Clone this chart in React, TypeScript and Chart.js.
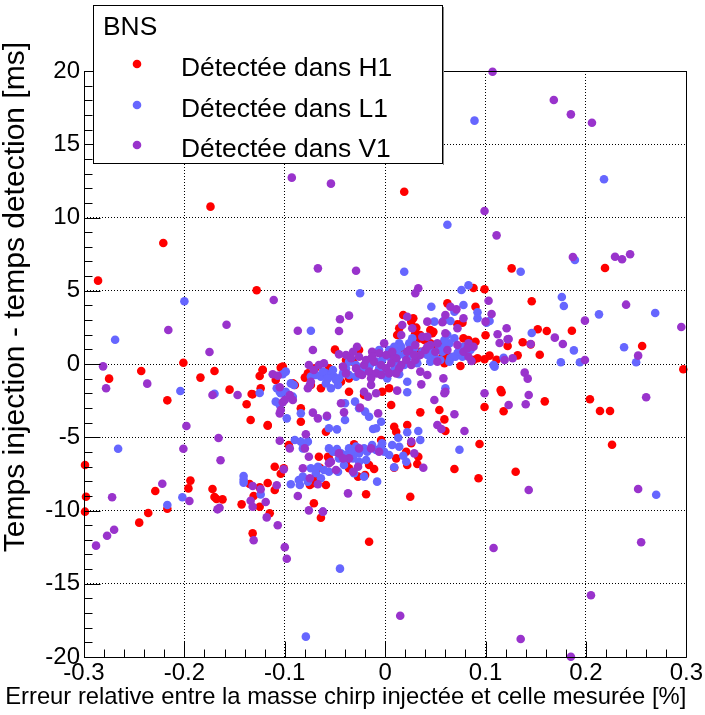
import { useEffect, useRef } from 'react';
import { Chart, registerables } from 'chart.js';

Chart.register(...registerables);

const FONT = "'Liberation Sans', Arial, Helvetica, sans-serif";

const xTickValues = [-0.3, -0.2, -0.1, 0, 0.1, 0.2, 0.3];
const xTickLabels = ['-0.3', '-0.2', '-0.1', '0', '0.1', '0.2', '0.3'];
const yTickValues = [-20, -15, -10, -5, 0, 5, 10, 15, 20];
const yTickLabels = ['-20', '-15', '-10', '-5', '0', '5', '10', '15', '20'];

const legendTitle = 'BNS';
const seriesNames = ['Détectée dans H1', 'Détectée dans L1', 'Détectée dans V1'];
const seriesColors = ['#ff0000', '#6666ff', '#9933cc'];
const xTitle = 'Erreur relative entre la masse chirp injectée et celle mesurée [%]';
const yTitle = 'Temps injection - temps detection [ms]';

const h1Points: [number, number][] = [
  [-0.174, 10.74], [-0.221, 8.26], [-0.286, 5.69], [-0.128, 5.03], [-0.201, 0.09], [-0.243, -0.48],
  [-0.275, -1.0], [-0.184, -0.93], [-0.17, -0.48], [-0.217, -2.48], [-0.155, -1.75], [-0.138, -2.75],
  [-0.132, -2.07], [-0.125, -0.82], [-0.122, -0.39], [-0.124, -1.66], [-0.109, -1.09], [-0.104, -0.25],
  [-0.134, -3.82], [-0.117, -4.21], [-0.299, -6.89], [-0.194, -7.96], [-0.196, -8.49], [-0.172, -8.53],
  [-0.229, -8.67], [-0.298, -9.06], [-0.17, -9.08], [-0.168, -9.22], [-0.162, -9.24], [-0.299, -10.08],
  [-0.236, -10.17], [-0.245, -10.83], [-0.217, -9.88], [-0.143, -9.58], [-0.135, -8.19], [-0.131, -9.01],
  [-0.125, -8.42], [-0.125, -9.74], [-0.117, -8.12], [-0.11, -8.6], [-0.104, -7.49], [-0.11, -7.01],
  [-0.115, -10.19], [-0.132, -11.56],
  [0.019, 11.76], [0.088, 5.19], [0.099, 5.1],
  [0.126, 6.53], [0.219, 6.55], [0.146, 4.28], [0.152, 2.37], [0.161, 2.25], [0.186, 2.27], [0.1, 1.96],
  [0.122, 1.23], [0.137, 1.48], [0.256, 1.23], [0.104, 0.57], [0.111, 0.29], [0.132, 0.59], [0.154, 0.63],
  [0.099, 0.32], [0.297, -0.36], [0.115, -1.77],
  [0.116, -1.93], [0.099, -2.94], [0.118, -3.23], [0.159, -2.55], [0.204, -2.41], [0.214, -3.21],
  [0.224, -3.21], [0.226, -5.51], [0.13, -7.35],
  [-0.016, -12.13],
  [0.062, 4.14], [0.09, 3.91], [0.145, 1.34], [0.072, 2.71], [0.077, 2.82], [0.047, 2.1], [0.045, 2.32],
  [0.028, 3.12], [0.026, 2.89], [0.018, 3.34], [0.014, 2.44], [0.031, 2.48], [0.03, 2.1], [0.035, 1.98],
  [0.048, 2.2], [0.078, 1.75], [0.083, 1.64], [0.09, 1.52], [0.075, -0.14], [0.088, 0.27], [0.092, 0.39],
  [0.035, -3.3], [0.054, -3.14], [0.059, -3.78], [0.06, -4.57], [0.094, -5.46], [0.069, -7.17],
  [0.093, -7.8], [0.025, -9.06], [0.022, -4.16], [0.026, -5.41], [0.033, -6.33], [0.032, -6.83],
  [0.022, -6.89], [0.021, -5.99], [0.009, -4.28], [0.011, -4.62],
  [0.016, 0.96], [0.027, 1.41], [0.034, 1.75], [0.039, 1.64], [0.045, 1.41], [0.05, 0.96], [0.057, 0.5],
  [0.059, 0.05], [0.064, 0.5], [0.035, 0.84], [0.042, 1.52], [0.055, 1.3],
  [-0.05, 0.98], [-0.102, -0.18], [-0.122, -0.41], [-0.133, -2.05], [-0.092, -1.32], [-0.09, -1.43],
  [-0.117, -4.16], [-0.084, -3.94], [-0.084, -3.02], [-0.059, -4.62], [0.006, -2.8],
  [-0.096, -5.53], [-0.101, -7.12], [-0.072, -8.14], [-0.07, -7.85], [-0.075, -8.26], [-0.059, -8.26],
  [-0.071, -9.51], [-0.066, -6.33], [-0.057, -6.33], [-0.065, -7.08], [-0.049, -5.99], [-0.039, -6.67],
  [-0.031, -5.48], [-0.027, -7.69], [-0.02, -7.58], [-0.011, -7.17], [-0.019, -8.89], [-0.004, -5.19],
  [0.009, -7.08], [0.011, -6.44], [-0.064, -10.49], [-0.056, -6.44], [-0.036, -7.12], [-0.016, -6.89],
  [-0.08, -0.93], [-0.077, -0.64], [-0.074, -1.43], [-0.064, -1.66], [-0.07, -0.3], [-0.056, -0.3],
  [-0.039, 0.27], [-0.026, 0.96], [-0.032, 0.16], [-0.022, -0.3], [-0.003, -1.89], [0.004, -1.66],
  [0.012, 1.98], [-0.036, -1.89], [-0.036, -0.98], [-0.044, -1.21], [-0.021, -2.12],
];

const l1Points: [number, number][] = [
  [-0.2, 4.28], [-0.269, 1.66], [-0.204, -1.84], [-0.17, -2.03], [-0.125, -1.98], [-0.108, -1.66], [-0.104, -2.0],
  [-0.266, -5.78], [-0.141, -7.64], [-0.141, -7.9], [-0.141, -8.1], [-0.217, -9.62], [-0.202, -9.1], [-0.124, -8.9],
  [0.089, 16.61], [0.062, 9.51], [0.019, 6.3], [0.083, 5.37], [0.076, 5.05],
  [0.218, 12.61], [0.189, 7.1], [0.135, 6.3], [0.176, 4.57], [0.178, 3.96], [0.269, 3.48], [0.101, 2.82],
  [0.104, 2.94], [0.213, 3.39], [0.146, 2.12], [0.188, 0.93], [0.238, 1.14], [0.25, 0.12], [0.118, 0.43],
  [0.109, -0.18], [0.175, 0.12], [0.194, 0.12],
  [0.27, -8.92], [-0.045, -13.97], [-0.079, -18.61],
  [0.046, 3.91], [0.078, 4.03], [0.092, 3.53], [0.092, 3.12], [0.049, 2.89], [0.058, 2.94], [0.065, 2.94],
  [0.069, 3.57], [0.07, 3.69], [0.027, 1.75], [0.014, 1.41], [0.024, 1.41], [0.072, 0.73], [0.077, 0.5],
  [0.07, 0.5], [0.065, 0.39], [0.108, -0.07], [0.06, -1.66], [0.033, -4.57], [0.035, -5.19], [0.022, -4.66],
  [0.013, -5.03], [0.014, -5.65], [0.018, -6.26], [0.021, -6.67], [0.009, -7.05], [0.074, -5.85], [0.022, -1.93],
  [0.009, 1.18], [0.012, 0.84], [0.016, 1.18], [0.019, 0.61], [0.022, 0.39], [0.026, 0.73], [0.029, 1.07],
  [0.032, 0.5], [0.037, 0.84], [0.042, 0.61], [0.045, 0.96], [0.049, 0.5], [0.054, 1.07], [0.057, 0.84],
  [0.06, 1.3], [0.064, 1.41], [0.067, 0.5], [0.064, 0.16], [0.059, 1.64], [0.062, 1.98], [0.069, 1.75],
  [0.073, 0.84], [0.078, 1.18], [0.085, 0.96], [0.022, -1.21], [0.014, -0.7], [0.009, -0.52], [0.011, 0.16],
  [0.019, -0.07], [0.032, 0.05], [0.045, 0.16], [0.055, 0.27],
  [-0.025, 4.83], [-0.074, 2.27], [-0.102, -0.7], [-0.105, -1.89], [-0.099, -1.89], [-0.094, -1.32],
  [-0.091, -1.43], [-0.092, -2.23], [-0.098, -3.71], [-0.084, -3.37], [-0.058, -3.6], [-0.04, -3.82],
  [-0.048, -4.46], [-0.056, -4.39], [-0.016, -3.6], [-0.004, -3.94], [-0.012, -4.44], [-0.009, -4.39],
  [-0.04, -2.68], [-0.03, -2.57], [-0.026, -3.02], [-0.02, -3.25], [-0.09, -5.19], [-0.084, -5.3],
  [-0.077, -5.3], [-0.082, -5.76], [-0.094, -8.21], [-0.086, -7.92], [-0.082, -7.69], [-0.074, -7.12],
  [-0.067, -7.01], [-0.056, -7.35], [-0.064, -7.8], [-0.056, -5.76], [-0.048, -5.8], [-0.044, -6.1],
  [-0.036, -5.76], [-0.029, -5.64], [-0.021, -5.76], [-0.032, -6.44], [-0.026, -6.67], [-0.019, -6.55],
  [-0.009, -5.87], [-0.001, -5.99], [-0.004, -5.64], [0.004, -6.21], [-0.031, -7.46], [-0.021, -7.69],
  [-0.008, -8.03], [-0.062, -10.08], [-0.099, -0.52], [-0.109, -2.57], [-0.105, -2.8],
  [-0.052, -5.99], [-0.046, -6.44], [-0.039, -6.21], [-0.032, -5.99], [-0.026, -6.1], [-0.018, -5.99],
  [-0.013, -5.53], [-0.003, -5.41], [0.007, -5.53], [-0.041, -6.89], [-0.047, -7.35], [-0.061, -7.24],
  [-0.069, -7.46], [-0.077, -8.03], [-0.085, -8.26],
  [-0.074, -0.86], [-0.069, -0.75], [-0.064, -0.86], [-0.059, -0.64], [-0.054, -0.75], [-0.051, -0.86],
  [-0.046, -0.98], [-0.059, -1.32], [-0.054, -1.66], [-0.047, -1.43], [-0.036, 0.16], [-0.029, -0.07],
  [-0.019, -0.3], [-0.014, 0.05], [-0.006, -0.3], [-0.003, -0.75], [0.002, -0.98], [0.009, -0.41],
  [0.012, 0.73], [-0.006, 0.96], [0.004, 0.96], [0.011, -0.07],
  [-0.062, -0.52], [-0.057, -0.98], [-0.052, -0.41], [-0.049, -1.09], [-0.042, -0.64], [-0.039, -0.3],
  [-0.036, -0.75], [-0.029, -0.86], [-0.023, -0.41], [-0.016, -0.18], [-0.009, 0.16], [-0.003, 0.27],
  [0.004, 0.5], [0.009, 0.16], [0.012, 0.5],
];

const v1Points: [number, number][] = [
  [-0.111, 4.37], [-0.216, 2.32], [-0.158, 2.68], [-0.175, 0.82], [-0.281, -0.16], [-0.278, -1.66],
  [-0.237, -1.34], [-0.172, -2.12], [-0.147, -2.12], [-0.112, -0.7], [-0.107, -0.8], [-0.105, -1.59], [-0.102, -2.61],
  [-0.198, -4.23], [-0.166, -5.05], [-0.201, -5.78], [-0.164, -6.57], [-0.105, -3.37], [-0.104, -3.14],
  [-0.105, -5.24], [-0.222, -8.17], [-0.272, -9.1], [-0.195, -9.35], [-0.165, -9.81], [-0.167, -9.92],
  [-0.132, -8.33], [-0.134, -9.33], [-0.132, -9.74], [-0.124, -8.55], [-0.119, -9.42], [-0.118, -10.47],
  [-0.107, -11.01], [-0.108, -8.28], [-0.101, -7.19], [-0.27, -11.31], [-0.277, -11.72], [-0.288, -12.4],
  [-0.131, -12.03], [-0.1, -12.5],
  [-0.093, 12.72], [-0.054, 12.31], [0.099, 10.44], [-0.067, 6.53], [-0.029, 6.37], [0.033, 5.17],
  [0.107, 19.95], [0.168, 18.02], [0.185, 17.04], [0.206, 16.47], [0.111, 8.78], [0.187, 7.3], [0.229, 7.32],
  [0.236, 7.15], [0.244, 7.49], [0.103, 4.32], [0.24, 4.05], [0.295, 2.53], [0.106, 3.41], [0.199, 2.96],
  [0.121, 2.44], [0.169, 1.8], [0.177, 1.37], [0.112, 2.03], [0.114, 1.43], [0.122, 1.69], [0.145, 1.37],
  [0.252, 0.57], [0.119, 0.27], [0.127, 0.39], [0.199, 0.27], [0.139, -0.59], [0.142, -1.0],
  [0.143, -2.12], [0.123, -2.8], [0.14, -2.75], [0.099, -2.0], [0.26, -2.27], [0.143, -8.6], [0.252, -8.53],
  [0.108, -12.56], [0.255, -12.17], [0.205, -15.79], [0.135, -18.77], [0.185, -19.98],
  [-0.098, -13.29], [0.015, -17.18],
  [0.03, 4.83], [0.065, 3.91], [0.071, 3.73], [0.1, 2.89], [0.078, 3.12], [0.123, 1.71], [0.072, 2.44],
  [0.06, 2.1], [0.057, 2.85], [0.06, 3.34], [0.042, 2.89], [0.022, 3.23], [0.017, 2.66], [0.027, 2.44],
  [0.037, 1.86], [0.042, 1.86], [0.016, 1.98], [0.083, 1.41], [0.088, 1.18], [0.086, 0.2], [0.083, 0.5],
  [0.078, 0.84], [0.06, -1.89], [0.059, -2.0], [0.049, -2.46], [0.069, -3.43], [0.052, -4.16], [0.056, -4.44],
  [0.079, -4.57], [0.026, -5.3], [0.038, -7.08], [0.029, -6.1], [0.012, -1.82], [0.036, -1.39], [0.058, -0.98],
  [0.011, 0.39], [0.016, -0.07], [0.021, 0.27], [0.026, -0.07], [0.03, 0.27], [0.035, 0.61], [0.04, 0.96],
  [0.045, 1.3], [0.05, 0.84], [0.052, 0.16], [0.035, -0.52], [0.042, -0.75], [0.014, -0.3], [0.024, 0.96], [0.03, 1.3],
  [0.022, 0.84], [0.029, 0.61], [0.042, 1.18], [0.052, 1.41], [0.062, 0.96], [0.072, 1.3], [0.082, 1.07],
  [-0.045, 3.05], [-0.036, 3.3], [-0.046, 2.25], [-0.087, 2.27], [-0.072, 0.96], [-0.028, 1.18], [-0.046, 0.66],
  [-0.1, -2.46], [-0.072, -3.32], [-0.067, -3.71], [-0.058, -3.53], [-0.041, -3.3], [-0.044, -2.68],
  [-0.025, -2.98], [-0.007, -3.37], [-0.095, -5.76], [-0.079, -4.8], [-0.08, -5.76], [-0.076, -6.33],
  [-0.082, -7.12], [-0.075, -7.8], [-0.087, -9.01], [-0.076, -9.99], [-0.062, -10.08], [-0.067, -8.21],
  [-0.056, -6.78], [-0.046, -6.1], [-0.054, -6.67], [-0.049, -7.24], [-0.036, -6.44], [-0.027, -7.01],
  [-0.014, -5.76], [-0.032, -7.35], [-0.037, -8.83], [-0.095, -2.12], [-0.092, -2.46],
  [-0.042, -6.44], [-0.026, -5.76], [-0.006, -5.99],
  [-0.076, -0.07], [-0.071, -0.41], [-0.075, -1.43], [-0.061, 0.05], [-0.077, -1.66], [-0.042, -0.18],
  [-0.039, -0.64], [-0.034, 0.39], [-0.029, -0.3], [-0.026, -0.64], [-0.021, -0.07], [-0.016, -0.52],
  [-0.011, 0.16], [-0.009, -0.64], [-0.004, -0.07], [0.001, -0.3], [0.006, 0.05], [0.011, -0.64],
  [0.007, 0.61], [-0.001, 1.41], [-0.013, 0.84], [-0.021, -1.89], [-0.014, -1.43], [-0.009, -2.0],
  [-0.017, -2.23], [-0.066, -0.07], [-0.074, -1.21],
  [-0.039, 0.61], [-0.032, 0.84], [-0.026, 0.5], [-0.019, 0.27], [-0.013, 0.5], [-0.006, 0.73],
  [0.001, 0.61], [0.007, 0.84], [-0.023, -0.75], [-0.014, -0.98], [-0.004, -0.75], [0.004, -0.64],
];

const allSeries = [h1Points, l1Points, v1Points];

const rootPlugin = {
  id: 'rootFrame',
  afterDatasetsDraw(chart: any) {
    const { ctx, chartArea: a, scales } = chart;
    const xs = scales.x;
    const ys = scales.y;
    const L = Math.round(a.left) + 0.5;
    const R = Math.round(a.right) + 0.5;
    const T = Math.round(a.top) + 0.5;
    const B = Math.round(a.bottom) + 0.5;
    ctx.save();
    ctx.strokeStyle = '#000';
    ctx.lineWidth = 1;
    ctx.setLineDash([]);
    ctx.beginPath();
    ctx.rect(L, T, R - L, B - T);
    ctx.stroke();
    ctx.beginPath();
    for (let k = -15; k <= 15; k++) {
      const px = Math.round(xs.getPixelForValue(k * 0.02)) + 0.5;
      const len = k % 5 === 0 ? 16 : 8;
      ctx.moveTo(px, B);
      ctx.lineTo(px, B - len);
    }
    for (let k = -20; k <= 20; k++) {
      const py = Math.round(ys.getPixelForValue(k)) + 0.5;
      const len = k % 5 === 0 ? 16 : 8;
      ctx.moveTo(L, py);
      ctx.lineTo(L + len, py);
    }
    ctx.stroke();

    // axis titles (ROOT style, aligned to the axis end)
    ctx.fillStyle = '#000';
    ctx.font = `23.8px ${FONT}`;
    ctx.textAlign = 'right';
    ctx.textBaseline = 'middle';
    ctx.fillText(xTitle, a.right, 697.5);
    ctx.save();
    ctx.translate(16, 42);
    ctx.rotate(-Math.PI / 2);
    ctx.font = `30px ${FONT}`;
    ctx.textAlign = 'right';
    ctx.textBaseline = 'middle';
    ctx.fillText(yTitle, 0, 0);
    ctx.restore();
    ctx.restore();
  },
  afterDraw(chart: any) {
    const { ctx } = chart;
    ctx.save();
    ctx.fillStyle = '#fff';
    ctx.fillRect(93, 5, 350, 159);
    ctx.strokeStyle = '#000';
    ctx.lineWidth = 1;
    ctx.strokeRect(93.5, 5.5, 349, 158);
    ctx.strokeStyle = '#888';
    ctx.beginPath();
    ctx.moveTo(443.5, 7);
    ctx.lineTo(443.5, 165);
    ctx.stroke();
    ctx.fillStyle = '#000';
    ctx.font = `26.4px ${FONT}`;
    ctx.textBaseline = 'alphabetic';
    ctx.textAlign = 'left';
    ctx.fillText(legendTitle, 103, 35);
    const baselines = [76, 117, 157];
    seriesNames.forEach((name, i) => {
      ctx.fillStyle = seriesColors[i];
      ctx.beginPath();
      ctx.arc(137, baselines[i] - 12, 4.3, 0, Math.PI * 2);
      ctx.fill();
      ctx.fillStyle = '#000';
      ctx.fillText(name, 181, baselines[i]);
    });
    ctx.restore();
  },
};

export default function App() {
  const ref = useRef<HTMLCanvasElement | null>(null);
  useEffect(() => {
    document.body.style.margin = '0';
    const canvas = ref.current;
    if (!canvas) return;
    const chart = new Chart(canvas, {
      type: 'scatter',
      data: {
        datasets: allSeries.map((pts, i) => ({
          label: seriesNames[i],
          data: pts.map(([x, y]) => ({ x, y })),
          backgroundColor: seriesColors[i],
          borderColor: seriesColors[i],
          pointRadius: 4.3,
          pointBorderWidth: 0,
          borderWidth: 0,
          order: 3 - i,
          clip: false,
        })),
      } as any,
      options: {
        responsive: false,
        animation: false,
        devicePixelRatio: 1,
        events: [],
        layout: { padding: { top: 71, right: 17, bottom: 0, left: 0 } },
        plugins: { legend: { display: false }, tooltip: { enabled: false } },
        scales: {
          x: {
            type: 'linear',
            min: -0.3,
            max: 0.3,
            afterBuildTicks: (s: any) => { s.ticks = xTickValues.map((v) => ({ value: v })); },
            afterFit: (s: any) => { s.height = 58; },
            ticks: {
              autoSkip: false,
              maxRotation: 0,
              padding: 2,
              color: '#000',
              font: { family: FONT, size: 24 },
              callback: (_v: any, i: number) => xTickLabels[i],
            },
            grid: { color: '#000', lineWidth: 1, drawTicks: false },
            border: { display: false, dash: [1, 2] },
            title: { display: false },
          },
          y: {
            type: 'linear',
            min: -20,
            max: 20,
            afterBuildTicks: (s: any) => { s.ticks = yTickValues.map((v) => ({ value: v })); },
            afterFit: (s: any) => { s.width = 84; },
            ticks: {
              autoSkip: false,
              padding: 4,
              color: '#000',
              font: { family: FONT, size: 24 },
              callback: (_v: any, i: number) => yTickLabels[i],
            },
            grid: { color: '#000', lineWidth: 1, drawTicks: false },
            border: { display: false, dash: [1, 2] },
            title: { display: false },
          },
        },
      } as any,
      plugins: [rootPlugin],
    });
    return () => chart.destroy();
  }, []);
  return (
    <canvas ref={ref} width={705} height={715} style={{ display: 'block', width: 705, height: 715 }} />
  );
}
